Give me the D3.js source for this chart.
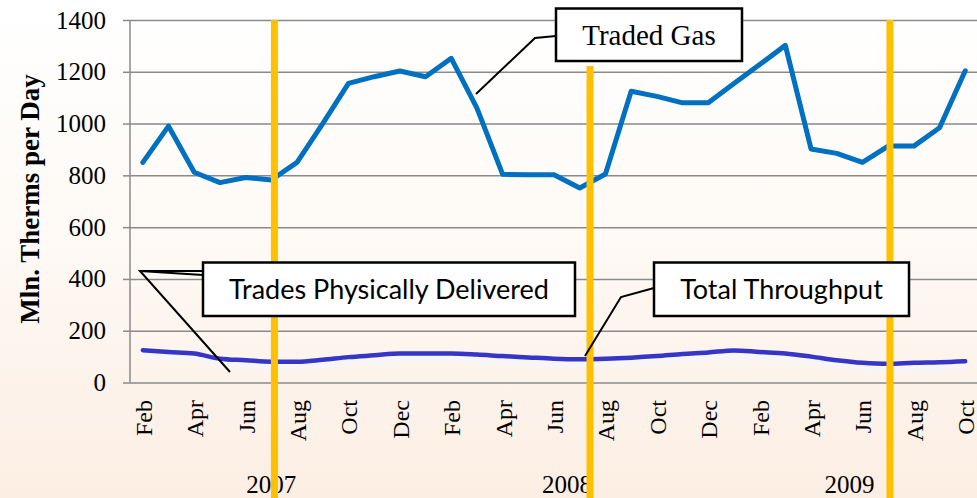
<!DOCTYPE html>
<html>
<head>
<meta charset="utf-8">
<script src="https://cdn.jsdelivr.net/npm/d3@7"></script>
<style>
  html, body { margin: 0; padding: 0; }
  body { width: 977px; height: 498px; overflow: hidden; }
</style>
</head>
<body>
<svg id="chart" width="977" height="498"></svg>
<script>
// ---------- data ----------
const months = [
  "Feb","Mar","Apr","May","Jun","Jul","Aug","Sep","Oct","Nov","Dec",
  "Jan","Feb","Mar","Apr","May","Jun","Jul","Aug","Sep","Oct","Nov","Dec",
  "Jan","Feb","Mar","Apr","May","Jun","Jul","Aug","Sep","Oct"
];
const years = ["2007","2008","2009"];
const yearCounts = [11, 12, 10];
const tradedGas = [
  850, 990, 812, 772, 792, 782, 850, 1000, 1155, 1181, 1203,
  1181, 1252, 1060, 804, 802, 802, 751, 805, 1125, 1105, 1080, 1080,
  1155, 1228, 1302, 902, 885, 850, 913, 913, 984, 1204
];
const totalThroughput = [
  125, 118, 112, 92, 86, 80, 80, 88, 98, 105, 112,
  112, 112, 108, 102, 97, 92, 90, 92, 96, 102, 110, 116,
  124, 118, 112, 100, 86, 76, 72, 76, 78, 82
];
const tradesDelivered = [
  102, 96, 90, 72, 64, 58, 58, 66, 76, 83, 90,
  90, 90, 86, 80, 74, 68, 66, 68, 74, 80, 88, 94,
  98, 96, 90, 80, 66, 56, 52, 54, 56, 60
];
const yTicks = [0, 200, 400, 600, 800, 1000, 1200, 1400];
const markerIdx = [5.12, 17.4, 29.07];
const markerTop = [1400, 1222, 1400];
const markerBottom = -450;

// ---------- layout ----------
const svg = d3.select("#chart");
const W = 977, H = 498;
const plotLeft = 130, step = 25.7, plotTop = 20, plotBottom = 382.5;

const defs = svg.append("defs");
const grad = defs.append("linearGradient").attr("id","bg").attr("x1",0).attr("y1",0).attr("x2",0).attr("y2",1);
grad.append("stop").attr("offset","0%").attr("stop-color","#FFFFFF");
grad.append("stop").attr("offset","45%").attr("stop-color","#FEFAF6");
grad.append("stop").attr("offset","100%").attr("stop-color","#FCEEE3");
svg.append("rect").attr("width",W).attr("height",H).attr("fill","url(#bg)");

const idx = d3.range(months.length);
const x = d3.scaleBand().domain(idx).range([plotLeft, plotLeft + step * months.length]).padding(0);
const xc = i => x(i) + x.bandwidth() / 2;
const xi = d3.scaleLinear().domain([-0.5, months.length - 0.5]).range([plotLeft, plotLeft + step * months.length]);
const y = d3.scaleLinear().domain([0, 1400]).range([plotBottom, plotTop]);

const serif = "'Liberation Serif','Times New Roman',serif";
const sans = "Lato, 'Open Sans', sans-serif";

// gridlines + y axis
const yAxis = d3.axisLeft(y).tickValues(yTicks).tickSize(7).tickPadding(17).tickFormat(d3.format("d"));
const gy = svg.append("g").attr("transform", `translate(${plotLeft},0)`).call(yAxis);
gy.select(".domain").attr("stroke","#8a8a8a").attr("stroke-width",1.5).attr("d", `M0,${plotTop}V${plotBottom}`);
gy.selectAll(".tick line").attr("stroke","#8a8a8a").attr("stroke-width",1.5);
gy.selectAll(".tick text").attr("font-family", serif).attr("font-size", 25).attr("fill","#000");
gy.selectAll(".tick").append("line").attr("x1",0).attr("x2", W - plotLeft).attr("stroke","#8a8a8a").attr("stroke-width",1.5);

// x tick labels (every other month)
const xl = svg.append("g");
idx.filter(i => i % 2 === 0).forEach(i => {
  xl.append("text")
    .attr("transform", `translate(${xc(i) + 9},400) rotate(-90)`)
    .attr("text-anchor","end")
    .attr("font-family", serif).attr("font-size", 24).attr("fill","#000")
    .text(months[i]);
});
// year labels
let acc = 0;
years.forEach((yr, k) => {
  const a = x(acc), b = x(acc + yearCounts[k] - 1) + x.bandwidth();
  svg.append("text").attr("x", (a + b) / 2).attr("y", 493)
    .attr("text-anchor","middle").attr("font-family", serif).attr("font-size", 25).attr("fill","#000")
    .text(yr);
  acc += yearCounts[k];
});

// y title
svg.append("text").attr("transform","translate(39,199) rotate(-90)")
  .attr("text-anchor","middle").attr("font-family", serif).attr("font-weight","bold")
  .attr("font-size", 27).attr("fill","#000").text("Mln. Therms per Day");

// series
const lineLin = d3.line().x((d,i) => xc(i)).y(d => y(d));
const lineSmooth = d3.line().x((d,i) => xc(i)).y(d => y(d)).curve(d3.curveMonotoneX);

svg.append("path").datum(tradesDelivered).attr("d", lineSmooth)
  .attr("fill","none").attr("stroke","#F6F6F8").attr("stroke-width",5).attr("stroke-linecap","round");
svg.append("path").datum(totalThroughput).attr("d", lineSmooth)
  .attr("fill","none").attr("stroke","#3535C8").attr("stroke-width",4.5).attr("stroke-linecap","round");
svg.append("path").datum(tradedGas).attr("d", lineLin)
  .attr("fill","none").attr("stroke","#0070C0").attr("stroke-width",5).attr("stroke-linejoin","round").attr("stroke-linecap","round");

// yellow markers
markerIdx.forEach((m, k) => {
  svg.append("line").attr("x1", xi(m)).attr("x2", xi(m))
    .attr("y1", y(markerTop[k])).attr("y2", y(markerBottom))
    .attr("stroke","#FFC000").attr("stroke-width",7);
});

// callouts
function leader(pts) {
  svg.append("path").attr("d", d3.line()(pts)).attr("fill","none").attr("stroke","#000").attr("stroke-width",2);
}
function box(x0, y0, w, h, label, font, size) {
  svg.append("rect").attr("x",x0).attr("y",y0).attr("width",w).attr("height",h)
    .attr("fill","#fff").attr("stroke","#000").attr("stroke-width",2.5);
  svg.append("text").attr("x", x0 + w/2).attr("y", y0 + h/2).attr("dy","0.35em")
    .attr("text-anchor","middle").attr("font-family", font).attr("font-size", size).attr("fill","#000")
    .text(label);
}
leader([[556,36],[535,38],[476,94]]);
box(556, 8.5, 186, 52.5, "Traded Gas", serif, 29);

leader([[203,271],[140,271],[230,372]]);
leader([[203,275],[140,271]]);
box(203, 262.5, 372, 53.5, "Trades Physically Delivered", sans, 27);

leader([[654,288],[621,297],[585,356]]);
box(654, 262.5, 255, 53.5, "Total Throughput", sans, 27);
</script>
</body>
</html>
